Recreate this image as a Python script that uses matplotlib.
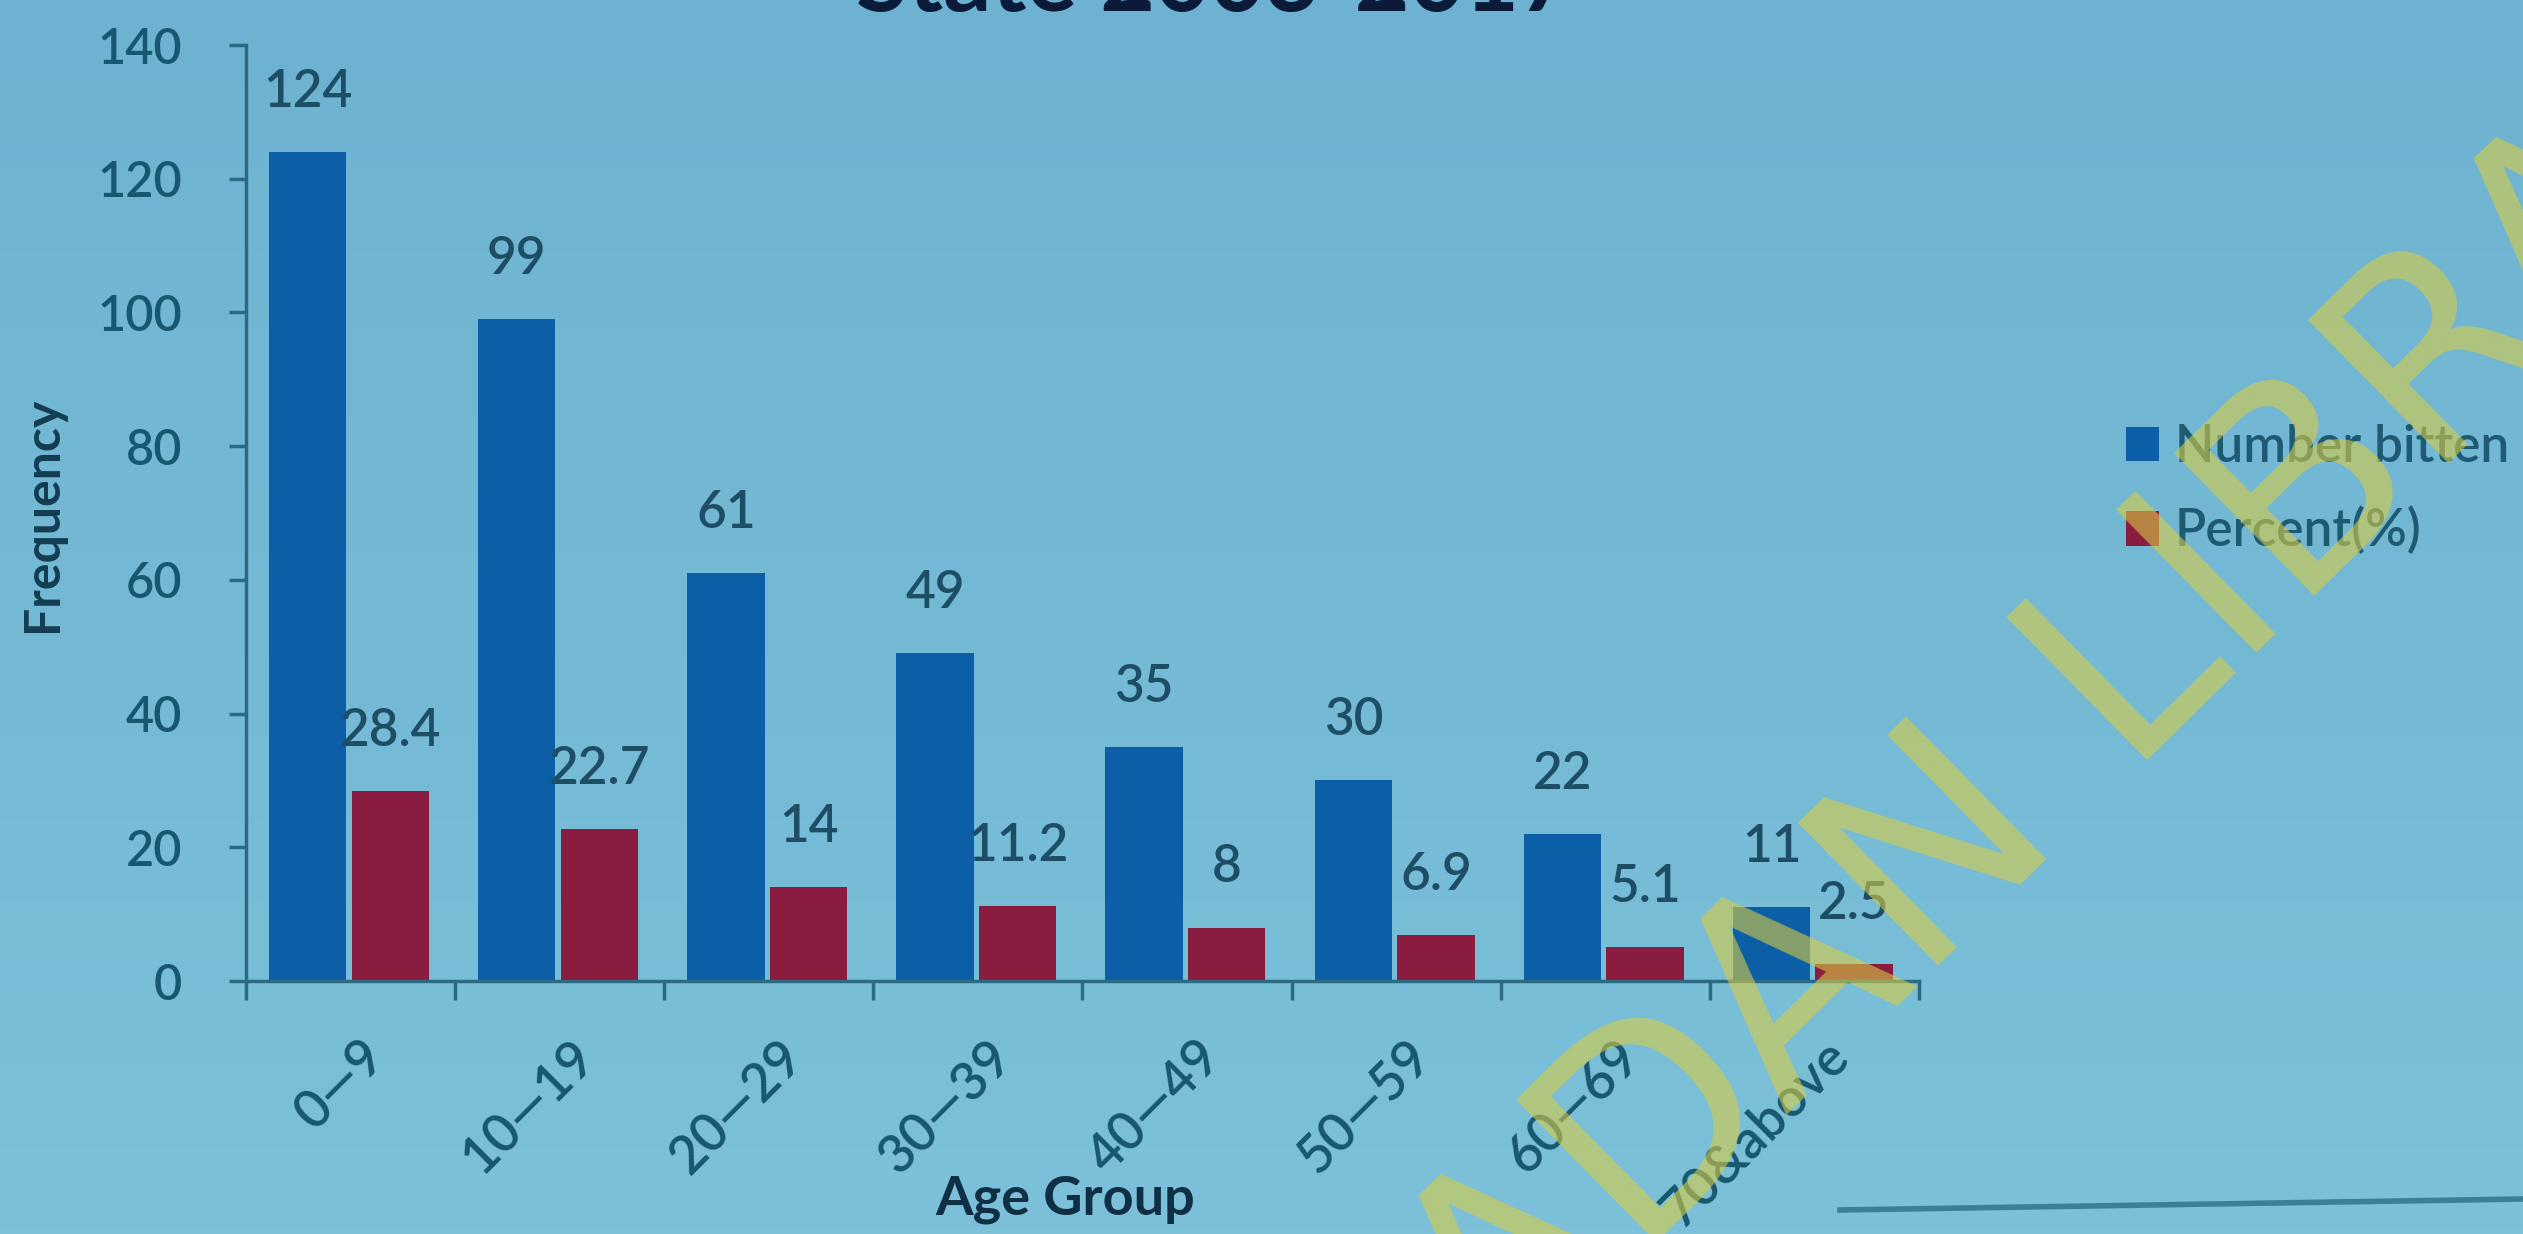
import numpy as np
import matplotlib
matplotlib.use("Agg")
import matplotlib.pyplot as plt
from matplotlib.colors import LinearSegmentedColormap
from matplotlib.lines import Line2D
from matplotlib.transforms import ScaledTranslation
from matplotlib import font_manager

# ---- data ----
age_groups = ["0—9", "10—19", "20—29", "30—39", "40—49", "50—59", "60—69", "70&above"]
number_bitten = [124, 99, 61, 49, 35, 30, 22, 11]
percent = [28.4, 22.7, 14, 11.2, 8, 6.9, 5.1, 2.5]
percent_labels = ["28.4", "22.7", "14", "11.2", "8", "6.9", "5.1", "2.5"]
y_ticks = [0, 20, 40, 60, 80, 100, 120, 140]
series_names = ["Number bitten", "Percent(%)"]

# ---- style ----
installed = {f.name for f in font_manager.fontManager.ttflist}
FONT = "Lato" if "Lato" in installed else "DejaVu Sans"
plt.rcParams["font.family"] = [FONT, "DejaVu Sans"]

BLUE = "#0c5ea6"
RED = "#8a1c40"
AXIS_C = "#2c6a82"
TICK_TXT = "#175870"
LABEL_TXT = "#1d4e66"
TITLE_TXT = "#0a1a38"
WEIGHT = "semibold"

W, H, DPI = 2523, 1234, 100
fig = plt.figure(figsize=(W / DPI, H / DPI), dpi=DPI)

# slide background (soft vertical gradient)
bg = fig.add_axes([0, 0, 1, 1], zorder=-10)
grad = np.linspace(0, 1, 256).reshape(-1, 1)
bg.imshow(grad, aspect="auto", extent=[0, 1, 0, 1], origin="upper",
          cmap=LinearSegmentedColormap.from_list("slide", ["#6db2d0", "#7cc1d9"]))
bg.axis("off")

ax = fig.add_axes([0.0975, 0.205, 0.7606 - 0.0975, 0.9635 - 0.205])
ax.patch.set_alpha(0)

x = np.arange(len(age_groups))
bw = 0.37
b1 = ax.bar(x - 0.205, number_bitten, bw, color=BLUE, label=series_names[0], zorder=2)
b2 = ax.bar(x + 0.19, percent, bw, color=RED, label=series_names[1], zorder=2)

for rect, v in zip(b1, number_bitten):
    ax.annotate(str(v), (rect.get_x() + rect.get_width() / 2, rect.get_height()),
                xytext=(0, 43), textcoords="offset points", ha="center", va="center",
                fontsize=37, color=LABEL_TXT, fontweight=WEIGHT)
for rect, s in zip(b2, percent_labels):
    ax.annotate(s, (rect.get_x() + rect.get_width() / 2, rect.get_height()),
                xytext=(0, 43), textcoords="offset points", ha="center", va="center",
                fontsize=37, color=LABEL_TXT, fontweight=WEIGHT)

ax.set_xlim(-0.5, len(age_groups) - 0.5)
ax.set_ylim(0, 140)

for side in ("top", "right"):
    ax.spines[side].set_visible(False)
for side in ("left", "bottom"):
    ax.spines[side].set_color(AXIS_C)
    ax.spines[side].set_linewidth(2.5)

ax.set_yticks(y_ticks)
ax.tick_params(axis="y", length=12, width=2.5, color=AXIS_C, pad=34,
               labelsize=35, labelcolor=TICK_TXT)
for lab in ax.get_yticklabels():
    lab.set_fontweight(WEIGHT)

ax.set_xticks(x)
ax.set_xticks(np.arange(-0.5, len(age_groups), 1), minor=True)
ax.tick_params(axis="x", which="minor", length=14, width=2.5, color=AXIS_C)
ax.tick_params(axis="x", which="major", length=0, pad=36)
ax.set_xticklabels(age_groups, rotation=45, ha="right", va="top",
                   rotation_mode="anchor", fontsize=38, color=TICK_TXT,
                   fontweight=WEIGHT)
shift = ScaledTranslation(9 / DPI, 0, fig.dpi_scale_trans)
for lab in ax.get_xticklabels():
    lab.set_transform(lab.get_transform() + shift)

# axis titles
fig.text(0.017, 0.583, "Frequency", fontsize=36, fontweight="bold", color="#123d52",
         rotation=90, ha="center", va="center")
fig.text(0.422, 0.028, "Age Group", fontsize=39, fontweight="bold", color="#0f2f44",
         ha="center", va="center")

leg = fig.legend(handles=[b1, b2], labels=series_names, loc="center left",
                 bbox_to_anchor=(0.8426, 0.603), frameon=False, fontsize=37,
                 handlelength=0.65, handleheight=0.65, handletextpad=0.3,
                 labelspacing=0.69, borderaxespad=0, borderpad=0)
for t in leg.get_texts():
    t.set_color("#1e5a72")
    t.set_fontweight(WEIGHT)

# title line (lower part only on the slide)
fig.text(0.4815, 0.991, "State 2003-2017", fontsize=68, fontweight="bold",
         color=TITLE_TXT, ha="center", va="baseline")

# bottom edge of the projected slide
fig.add_artist(Line2D([1840 / W, 1.0], [1 - 1210 / H, 1 - 1199 / H],
                      transform=fig.transFigure, color="#3a7f98", lw=4))

# library watermark
fig.text(0.8415, 0.3655, "IBADAN LIBRARY", fontsize=198, family="DejaVu Sans",
         color="#d8cc44", alpha=0.6, rotation=44.5, rotation_mode="anchor",
         ha="center", va="baseline", zorder=20)

fig.savefig("out.png", dpi=DPI)
